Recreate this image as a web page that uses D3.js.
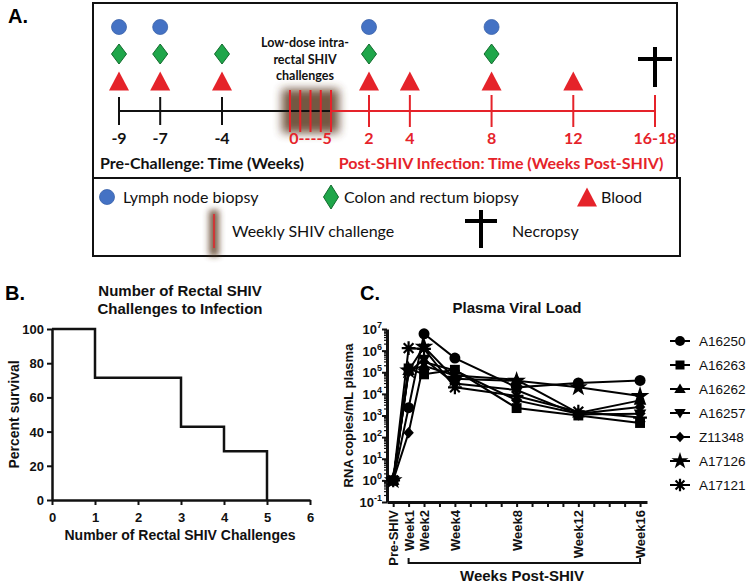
<!DOCTYPE html>
<html><head><meta charset="utf-8">
<script src="https://cdn.jsdelivr.net/npm/d3@7"></script>
<style>body{margin:0;background:#fff} svg{display:block}</style>
</head><body>
<svg id="chart" width="750" height="584"></svg>
<script>
// ---------------- Panel A data ----------------
const preWeeks = [-9, -7, -4];
const preLabels = ["-9", "-7", "-4"];
const challengeNums = [1, 2, 3, 4, 5];
const challengeLabel = "0----5";
const postWeeks = [2, 4, 8, 12, 16];
const postLabels = ["2", "4", "8", "12", "16-18"];
const lymphWeeks = [-9, -7, 2, 8];
const colonWeeks = [-9, -7, -4, 2, 8];
const bloodWeeks = [-9, -7, -4, 2, 4, 8, 12];
const necropsyWeeks = [16];
const challengeNote = ["Low-dose intra-", "rectal SHIV", "challenges"];
const preTitle = "Pre-Challenge: Time (Weeks)";
const postTitle = "Post-SHIV Infection: Time (Weeks Post-SHIV)";
const legendRow1 = ["Lymph node biopsy", "Colon and rectum biopsy", "Blood"];
const legendRow2 = ["Weekly SHIV challenge", "Necropsy"];

// ---------------- Panel B data ----------------
const survivalChallenges = [0, 1, 3, 4, 5];
const survivalPercent = [100, 71.43, 42.86, 28.57, 0];
const survivalXTicks = [0, 1, 2, 3, 4, 5, 6];
const survivalYTicks = [0, 20, 40, 60, 80, 100];

// ---------------- Panel C data ----------------
const vlLabels = ["Pre-SHIV", "Week1", "Week2", "Week4", "Week8", "Week12", "Week16"];
const vlWeeks = [0, 1, 2, 4, 8, 12, 16];
const animals = ["A16250", "A16263", "A16262", "A16257", "Z11348", "A17126", "A17121"];
const vlA16250 = [1, 2300, 6.0e6, 4.5e5, 2.0e4, 3.2e4, 4.2e4];
const vlA16263 = [1, 1.5e5, 8.0e4, 1.3e5, 2.2e3, 1.0e3, 4.5e2];
const vlA16262 = [1, 1.2e5, 2.0e5, 7.0e4, 4.5e4, 1.3e3, 5.0e3];
const vlA16257 = [1, 1.0e5, 4.0e5, 3.0e4, 1.5e4, 1.1e3, 1.2e3];
const vlZ11348 = [1, 160, 3.0e5, 1.2e5, 5.0e3, 1.2e3, 2.5e3];
const vlA17126 = [1, 1.2e5, 1.5e6, 5.0e4, 4.0e4, 2.0e4, 8.0e3];
const vlA17121 = [1, 1.3e6, 1.2e6, 2.0e4, 8.0e3, 1.5e3, 8.0e2];
const vlSeries = [vlA16250, vlA16263, vlA16262, vlA16257, vlZ11348, vlA17126, vlA17121];
const vlMarkers = ["circle", "square", "triangle", "triangleDown", "diamond", "star", "asterisk"];
const vlYTicks = [0.1, 1, 10, 100, 1e3, 1e4, 1e5, 1e6, 1e7];

// ---------------- Styles ----------------
const RED = "#E5232A", BLUE = "#4472C4", GREEN = "#1FA64A", GREEN_D = "#136B2E";
const CAL = "Lato, 'Open Sans', sans-serif";
const ARI = "'Liberation Sans', Arial, sans-serif";

const svg = d3.select("#chart");
const defs = svg.append("defs");
const blur = defs.append("filter").attr("id", "glow").attr("x", "-50%").attr("y", "-50%").attr("width", "200%").attr("height", "200%");
blur.append("feGaussianBlur").attr("stdDeviation", 5);
const blur2 = defs.append("filter").attr("id", "glow2").attr("x", "-100%").attr("y", "-50%").attr("width", "300%").attr("height", "200%");
blur2.append("feGaussianBlur").attr("stdDeviation", 3);

// ================= PANEL A =================
const gA = svg.append("g");
gA.append("text").attr("x", 8).attr("y", 23).text("A.")
  .attr("font-family", ARI).attr("font-weight", "bold").attr("font-size", 20);
gA.append("rect").attr("x", 93).attr("y", 3).attr("width", 584).attr("height", 175)
  .attr("fill", "none").attr("stroke", "#111").attr("stroke-width", 2);

const preX = d3.scaleLinear().domain([-9, -4]).range([119, 222]);
const chX = d3.scaleLinear().domain([1, 5]).range([290, 331]);
const postX = d3.scaleLinear().domain([2, 16]).range([369, 655]);
const wX = w => (w < 0 ? preX(w) : postX(w));
const rowY = d3.scalePoint().domain(["lymph", "colon", "blood"]).range([27, 81]);
const axisY = 111;

// glow behind challenges
gA.append("rect").attr("x", chX(1) - 8).attr("y", axisY - 22).attr("width", chX(5) - chX(1) + 16).attr("height", 44)
  .attr("fill", "#5b3b24").attr("opacity", 0.85).attr("filter", "url(#glow)");

// timeline lines
gA.append("line").attr("x1", preX(-9)).attr("x2", chX(5)).attr("y1", axisY).attr("y2", axisY)
  .attr("stroke", "#111").attr("stroke-width", 2);
gA.append("line").attr("x1", chX(5)).attr("x2", postX(16)).attr("y1", axisY).attr("y2", axisY)
  .attr("stroke", RED).attr("stroke-width", 2);
gA.selectAll(".preTick").data(preWeeks).enter().append("line")
  .attr("x1", d => preX(d)).attr("x2", d => preX(d)).attr("y1", axisY - 14).attr("y2", axisY + 14)
  .attr("stroke", "#111").attr("stroke-width", 2);
gA.selectAll(".chTick").data(challengeNums).enter().append("line")
  .attr("x1", d => chX(d)).attr("x2", d => chX(d)).attr("y1", axisY - 21).attr("y2", axisY + 21)
  .attr("stroke", RED).attr("stroke-width", 2);
gA.selectAll(".postTick").data(postWeeks).enter().append("line")
  .attr("x1", d => postX(d)).attr("x2", d => postX(d)).attr("y1", axisY - 16).attr("y2", axisY + 16)
  .attr("stroke", RED).attr("stroke-width", 2);

// tick labels
gA.selectAll(".preLab").data(preWeeks).enter().append("text")
  .attr("x", d => preX(d)).attr("y", 144).attr("text-anchor", "middle").text((d, i) => preLabels[i])
  .attr("font-family", CAL).attr("font-weight", "bold").attr("font-size", 16).attr("fill", "#111");
gA.append("text").attr("x", (chX(1) + chX(5)) / 2).attr("y", 144).attr("text-anchor", "middle").text(challengeLabel)
  .attr("font-family", CAL).attr("font-weight", "bold").attr("font-size", 16).attr("fill", RED);
gA.selectAll(".postLab").data(postWeeks).enter().append("text")
  .attr("x", d => postX(d)).attr("y", 144).attr("text-anchor", "middle").text((d, i) => postLabels[i])
  .attr("font-family", CAL).attr("font-weight", "bold").attr("font-size", 16).attr("fill", RED);
gA.append("text").attr("x", 202).attr("y", 169).attr("text-anchor", "middle").text(preTitle)
  .attr("font-family", CAL).attr("font-weight", "bold").attr("font-size", 16).attr("fill", "#111");
gA.append("text").attr("x", 501).attr("y", 169).attr("text-anchor", "middle").text(postTitle)
  .attr("font-family", CAL).attr("font-weight", "bold").attr("font-size", 16).attr("fill", RED);
gA.selectAll(".note").data(challengeNote).enter().append("text")
  .attr("x", 305).attr("y", (d, i) => 47 + i * 16.5).attr("text-anchor", "middle").text(d => d)
  .attr("font-family", CAL).attr("font-weight", "bold").attr("font-size", 12.5).attr("fill", "#111");

// markers
function drawCircle(g, x, y, r) {
  g.append("circle").attr("cx", x).attr("cy", y).attr("r", r).attr("fill", BLUE).attr("stroke", "#3a62aa").attr("stroke-width", 0.8);
}
function drawDiamond(g, x, y, w, h) {
  g.append("path").attr("d", `M${x},${y - h}L${x + w},${y}L${x},${y + h}L${x - w},${y}Z`)
    .attr("fill", GREEN).attr("stroke", GREEN_D).attr("stroke-width", 1);
}
function drawTri(g, x, y, w, h) {
  g.append("path").attr("d", `M${x},${y - h / 2}L${x + w / 2},${y + h / 2}L${x - w / 2},${y + h / 2}Z`).attr("fill", RED);
}
function drawCross(g, x, yTop, yBot, yBar, half) {
  g.append("line").attr("x1", x).attr("x2", x).attr("y1", yTop).attr("y2", yBot).attr("stroke", "#000").attr("stroke-width", 4);
  g.append("line").attr("x1", x - half).attr("x2", x + half).attr("y1", yBar).attr("y2", yBar).attr("stroke", "#000").attr("stroke-width", 4);
}
lymphWeeks.forEach(w => drawCircle(gA, wX(w), rowY("lymph"), 7.5));
colonWeeks.forEach(w => drawDiamond(gA, wX(w), rowY("colon"), 7.5, 10));
bloodWeeks.forEach(w => drawTri(gA, wX(w), rowY("blood"), 20, 19));
necropsyWeeks.forEach(w => drawCross(gA, wX(w), 47, 87, 59, 17));

// Legend box
const gL = svg.append("g");
gL.append("rect").attr("x", 93).attr("y", 178).attr("width", 587).attr("height", 78)
  .attr("fill", "none").attr("stroke", "#111").attr("stroke-width", 2);
const legX1 = d3.scalePoint().domain(legendRow1).range([107, 587]);
const legFont = g => g.attr("font-family", CAL).attr("font-size", 16).attr("fill", "#111");
const r1 = 197, r2 = 231;
drawCircle(gL, legX1(legendRow1[0]), r1, 7.5);
drawDiamond(gL, 331, r1, 7.5, 12);
drawTri(gL, legX1(legendRow1[2]), r1, 20, 19);
gL.append("text").attr("x", 123).attr("y", r1 + 6).text(legendRow1[0]).call(legFont);
gL.append("text").attr("x", 344).attr("y", r1 + 6).text(legendRow1[1]).call(legFont);
gL.append("text").attr("x", 601).attr("y", r1 + 6).text(legendRow1[2]).call(legFont);
gL.append("rect").attr("x", 209).attr("y", 210).attr("width", 10).attr("height", 46)
  .attr("fill", "#5b3b24").attr("opacity", 0.8).attr("filter", "url(#glow2)");
gL.append("line").attr("x1", 214).attr("x2", 214).attr("y1", 214).attr("y2", 248).attr("stroke", RED).attr("stroke-width", 1.5);
gL.append("text").attr("x", 232).attr("y", r2 + 6).text(legendRow2[0]).call(legFont);
drawCross(gL, 481, 210, 248, 221, 16);
gL.append("text").attr("x", 512).attr("y", r2 + 6).text(legendRow2[1]).call(legFont);

// ================= PANEL B =================
const gB = svg.append("g");
gB.append("text").attr("x", 5).attr("y", 300).text("B.")
  .attr("font-family", ARI).attr("font-weight", "bold").attr("font-size", 20);
const bx = d3.scaleLinear().domain([0, 6]).range([52, 310]);
const by = d3.scaleLinear().domain([0, 100]).range([500, 329]);
const bold = (g, s) => g.attr("font-family", ARI).attr("font-weight", "bold").attr("font-size", s).attr("fill", "#111");
gB.append("text").attr("x", 180).attr("y", 296).attr("text-anchor", "middle").text("Number of Rectal SHIV").call(bold, 15);
gB.append("text").attr("x", 180).attr("y", 314).attr("text-anchor", "middle").text("Challenges to Infection").call(bold, 15);
const bxAxis = gB.append("g").attr("transform", `translate(0,${by(0)})`)
  .call(d3.axisBottom(bx).tickValues(survivalXTicks).tickSize(5).tickSizeOuter(0).tickFormat(d3.format("d")));
const byAxis = gB.append("g").attr("transform", `translate(${bx(0)},0)`)
  .call(d3.axisLeft(by).tickValues(survivalYTicks).tickSize(5).tickSizeOuter(0).tickFormat(d3.format("d")));
[bxAxis, byAxis].forEach(a => {
  a.select(".domain").attr("stroke", "#111").attr("stroke-width", 2.5);
  a.selectAll(".tick line").attr("stroke", "#111").attr("stroke-width", 2);
  a.selectAll("text").call(bold, 13);
});
bxAxis.selectAll("text").attr("dy", "1.1em");
byAxis.selectAll("text").attr("dy", "0.35em");
gB.append("text").attr("x", 180).attr("y", 540).attr("text-anchor", "middle").text("Number of Rectal SHIV Challenges").call(bold, 14);
gB.append("text").attr("transform", `translate(19,${by(50)}) rotate(-90)`).attr("text-anchor", "middle").text("Percent survival").call(bold, 14);
const survData = survivalChallenges.map((c, i) => [c, survivalPercent[i]]);
gB.append("path").datum(survData)
  .attr("d", d3.line().x(d => bx(d[0])).y(d => by(d[1])).curve(d3.curveStepAfter))
  .attr("fill", "none").attr("stroke", "#111").attr("stroke-width", 2.5).attr("stroke-linejoin", "miter");

// ================= PANEL C =================
const gC = svg.append("g");
gC.append("text").attr("x", 360).attr("y", 300).text("C.")
  .attr("font-family", ARI).attr("font-weight", "bold").attr("font-size", 20);
const cx = d3.scaleLinear().domain([-0.4, 16.45]).range([387, 647]);
const cy = d3.scaleLog().domain([0.1, 1e7]).range([502, 329]);
gC.append("text").attr("x", 517).attr("y", 313).attr("text-anchor", "middle").text("Plasma Viral Load").call(bold, 15);

// y axis with minor ticks
const minorTicks = [];
for (let e = -1; e < 7; e++) for (let m = 2; m <= 9; m++) minorTicks.push(m * Math.pow(10, e));
const cyAxis = gC.append("g").attr("transform", `translate(${cx.range()[0]},0)`)
  .call(d3.axisLeft(cy).tickValues(vlYTicks).tickSize(5).tickSizeOuter(0).tickFormat(""));
cyAxis.selectAll(".minor").data(minorTicks).enter().append("line").attr("class", "minor")
  .attr("x1", 0).attr("x2", -3).attr("y1", d => cy(d)).attr("y2", d => cy(d))
  .attr("stroke", "#111").attr("stroke-width", 1.2);
cyAxis.select(".domain").attr("stroke", "#111").attr("stroke-width", 3);
cyAxis.selectAll(".tick line").attr("stroke", "#111").attr("stroke-width", 2);
vlYTicks.forEach(v => {
  const t = gC.append("text").attr("x", cx.range()[0] - 5).attr("y", cy(v) + 5).attr("text-anchor", "end").call(bold, 13);
  t.append("tspan").text("10");
  t.append("tspan").attr("dy", -6).attr("font-size", 9).text(String(Math.round(Math.log10(v))));
});
gC.append("text").attr("transform", `translate(353,${cy(Math.pow(10, 3))}) rotate(-90)`).attr("text-anchor", "middle")
  .text("RNA copies/mL plasma").call(bold, 13);

// x axis
const allWeeks = d3.range(0, 17);
const cxAxis = gC.append("g").attr("transform", `translate(0,${cy.range()[0]})`)
  .call(d3.axisBottom(cx).tickValues(allWeeks).tickSize(5).tickSizeOuter(0).tickFormat(""));
cxAxis.select(".domain").attr("stroke", "#111").attr("stroke-width", 3);
cxAxis.selectAll(".tick line").attr("stroke", "#111").attr("stroke-width", 2);
vlWeeks.forEach((w, i) => {
  gC.append("text").attr("transform", `translate(${cx(w) + 5},${cy.range()[0] + 8}) rotate(-90)`)
    .attr("text-anchor", "end").text(vlLabels[i]).call(bold, 13);
});
// bracket
const bracketY = 563;
gC.append("path").attr("d", `M${cx(1)},${bracketY - 5}V${bracketY}H${cx(16)}V${bracketY - 5}`)
  .attr("fill", "none").attr("stroke", "#111").attr("stroke-width", 2);
gC.append("text").attr("x", 522).attr("y", 581).attr("text-anchor", "middle").text("Weeks Post-SHIV").call(bold, 15);

// markers
function symbolPath(type, size) {
  const r = size;
  switch (type) {
    case "circle": return d3.symbol(d3.symbolCircle, r * r * Math.PI)();
    case "square": return d3.symbol(d3.symbolSquare, (r * 1.8) * (r * 1.8))();
    case "triangle": return `M0,${-r * 1.1}L${r * 1.15},${r * 0.8}L${-r * 1.15},${r * 0.8}Z`;
    case "triangleDown": return `M0,${r * 1.1}L${r * 1.15},${-r * 0.8}L${-r * 1.15},${-r * 0.8}Z`;
    case "diamond": return `M0,${-r * 1.05}L${r * 0.95},0L0,${r * 1.05}L${-r * 0.95},0Z`;
    case "star": return d3.symbol(d3.symbolStar, r * r * 3.6)();
    default: return "";
  }
}
function drawMarker(g, type, x, y, r) {
  if (type === "asterisk") {
    const p = d3.path();
    for (let k = 0; k < 4; k++) {
      const a = k * Math.PI / 4;
      p.moveTo(x + r * 1.25 * Math.cos(a), y + r * 1.25 * Math.sin(a));
      p.lineTo(x - r * 1.25 * Math.cos(a), y - r * 1.25 * Math.sin(a));
    }
    g.append("path").attr("d", p.toString()).attr("stroke", "#000").attr("stroke-width", 2.2).attr("fill", "none");
  } else {
    g.append("path").attr("d", symbolPath(type, r)).attr("transform", `translate(${x},${y})`).attr("fill", "#000");
  }
}
const lineGen = d3.line().x((d, i) => cx(vlWeeks[i])).y(d => cy(d));
vlSeries.forEach(s => {
  gC.append("path").datum(s).attr("d", lineGen).attr("fill", "none").attr("stroke", "#000").attr("stroke-width", 2);
});
vlSeries.forEach((s, k) => {
  s.forEach((v, i) => drawMarker(gC, vlMarkers[k], cx(vlWeeks[i]), cy(v), 5.5));
});

// legend C
const legY = d3.scalePoint().domain(animals).range([341, 485]);
animals.forEach((a, k) => {
  const y = legY(a);
  gC.append("line").attr("x1", 670).attr("x2", 690).attr("y1", y).attr("y2", y).attr("stroke", "#000").attr("stroke-width", 2);
  drawMarker(gC, vlMarkers[k], 680, y, 5);
  gC.append("text").attr("x", 699).attr("y", y + 5).text(a)
    .attr("font-family", ARI).attr("font-size", 13.5).attr("fill", "#111");
});
</script>
</body></html>
